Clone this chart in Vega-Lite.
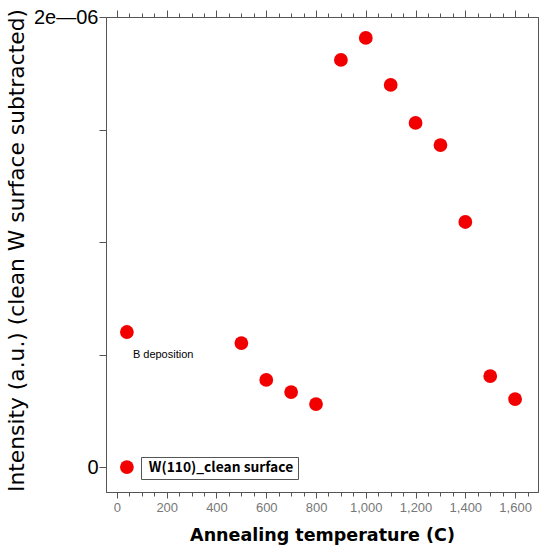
{
  "$schema": "https://vega.github.io/schema/vega-lite/v6.json",
  "width": 432,
  "height": 475,
  "autosize": {"type": "none"},
  "padding": {"left": 106, "top": 17, "right": 2, "bottom": 54},
  "background": "white",
  "config": {
    "view": {"stroke": "#555", "strokeWidth": 1},
    "axis": {"domainColor": "#555", "tickColor": "#555", "grid": false}
  },
  "data": {
    "values": [
      {"temp": 40, "intensity": 6.0e-7, "series": "B deposition"},
      {"temp": 500, "intensity": 5.51e-7, "series": "B deposition"},
      {"temp": 600, "intensity": 3.87e-7, "series": "B deposition"},
      {"temp": 700, "intensity": 3.33e-7, "series": "B deposition"},
      {"temp": 800, "intensity": 2.8e-7, "series": "B deposition"},
      {"temp": 900, "intensity": 1.809e-6, "series": "B deposition"},
      {"temp": 1000, "intensity": 1.907e-6, "series": "B deposition"},
      {"temp": 1100, "intensity": 1.698e-6, "series": "B deposition"},
      {"temp": 1200, "intensity": 1.529e-6, "series": "B deposition"},
      {"temp": 1300, "intensity": 1.431e-6, "series": "B deposition"},
      {"temp": 1400, "intensity": 1.089e-6, "series": "B deposition"},
      {"temp": 1500, "intensity": 4.04e-7, "series": "B deposition"},
      {"temp": 1600, "intensity": 3.02e-7, "series": "B deposition"},
      {"temp": 40, "intensity": 0, "series": "W(110)_clean surface"}
    ]
  },
  "resolve": {"axis": {"x": "independent", "y": "independent"}},
  "layer": [
    {
      "mark": {"type": "point", "filled": true, "opacity": 1, "size": 190},
      "encoding": {
        "x": {
          "field": "temp", "type": "quantitative",
          "scale": {"domain": [-44, 1692], "nice": false, "zero": false},
          "axis": {
            "orient": "bottom", "values": [0, 200, 400, 600, 800, 1000, 1200, 1400, 1600],
            "format": ",d", "tickSize": 6, "labelPadding": 3,
            "labelFont": "Liberation Sans", "labelFontSize": 13, "labelColor": "#777",
            "title": "Annealing temperature (C)", "titleFont": "DejaVu Sans",
            "titleFontSize": 17.5, "titleFontWeight": "bold", "titleColor": "#000", "titlePadding": 12
          }
        },
        "y": {
          "field": "intensity", "type": "quantitative",
          "scale": {"domain": [-1.11e-7, 2e-6], "nice": false, "zero": false},
          "axis": {
            "orient": "left", "values": [0, 5e-7, 1e-6, 1.5e-6, 2e-6], "tickSize": 7,
            "labelExpr": "datum.value == 0 ? '0' : (datum.value > 1.99e-6 ? '2e\u201406' : '')",
            "labelFont": "Liberation Sans", "labelFontSize": 20, "labelColor": "#000",
            "labelPadding": 1, "labelBound": false, "labelOverlap": false,
            "title": "Intensity (a.u.) (clean W surface subtracted)", "titleFont": "DejaVu Sans",
            "titleFontSize": 21.8, "titleFontWeight": "normal", "titleColor": "#000", "titlePadding": 5,
            "titleY": 233
          }
        },
        "color": {
          "field": "series", "type": "nominal",
          "scale": {"domain": ["B deposition", "W(110)_clean surface"], "range": ["#f20000", "#f20000"]},
          "legend": {
            "values": ["W(110)_clean surface"], "title": null, "orient": "none",
            "legendX": 35, "legendY": 440,
            "symbolSize": 0.01, "symbolStrokeWidth": 0, "symbolOpacity": 0, "labelOffset": -10,
            "labelFont": "Noto Sans CJK JP", "labelFontSize": 13.8, "labelFontWeight": "bold", "labelColor": "#000",
            "padding": 4, "strokeColor": "#555", "fillColor": "white"
          }
        }
      }
    },
    {
      "mark": {"type": "point", "opacity": 0},
      "encoding": {
        "x": {"field": "temp", "type": "quantitative",
          "scale": {"domain": [-44, 1692], "nice": false, "zero": false},
          "axis": {"orient": "bottom", "values": [50,100,150,250,300,350,450,500,550,650,700,750,850,900,950,1050,1100,1150,1250,1300,1350,1450,1500,1550,1650],
            "tickSize": 4, "labels": false, "domain": false, "title": null}},
        "y": {"field": "intensity", "type": "quantitative",
          "scale": {"domain": [-1.11e-7, 2e-6], "nice": false, "zero": false}, "axis": null}
      }
    },
    {
      "mark": {"type": "point", "opacity": 0},
      "encoding": {
        "x": {"field": "temp", "type": "quantitative",
          "scale": {"domain": [-44, 1692], "nice": false, "zero": false},
          "axis": {"orient": "top", "values": [0, 200, 400, 600, 800, 1000, 1200, 1400, 1600],
            "tickSize": 7, "labels": false, "title": null}},
        "y": {"field": "intensity", "type": "quantitative",
          "scale": {"domain": [-1.11e-7, 2e-6], "nice": false, "zero": false}, "axis": null}
      }
    },
    {
      "mark": {"type": "point", "opacity": 0},
      "encoding": {
        "x": {"field": "temp", "type": "quantitative",
          "scale": {"domain": [-44, 1692], "nice": false, "zero": false},
          "axis": {"orient": "top", "values": [50,100,150,250,300,350,450,500,550,650,700,750,850,900,950,1050,1100,1150,1250,1300,1350,1450,1500,1550,1650],
            "tickSize": 4, "labels": false, "domain": false, "title": null}},
        "y": {"field": "intensity", "type": "quantitative",
          "scale": {"domain": [-1.11e-7, 2e-6], "nice": false, "zero": false}, "axis": null}
      }
    },
    {
      "data": {"values": [{"label": "B deposition", "temp": 64, "intensity": 5e-7}]},
      "mark": {"type": "text", "align": "left", "baseline": "middle", "font": "Liberation Sans", "fontSize": 11, "color": "#000"},
      "encoding": {
        "x": {"field": "temp", "type": "quantitative", "scale": {"domain": [-44, 1692], "nice": false, "zero": false}, "axis": null},
        "y": {"field": "intensity", "type": "quantitative", "scale": {"domain": [-1.11e-7, 2e-6], "nice": false, "zero": false}, "axis": null},
        "text": {"field": "label"}
      }
    }
  ]
}
